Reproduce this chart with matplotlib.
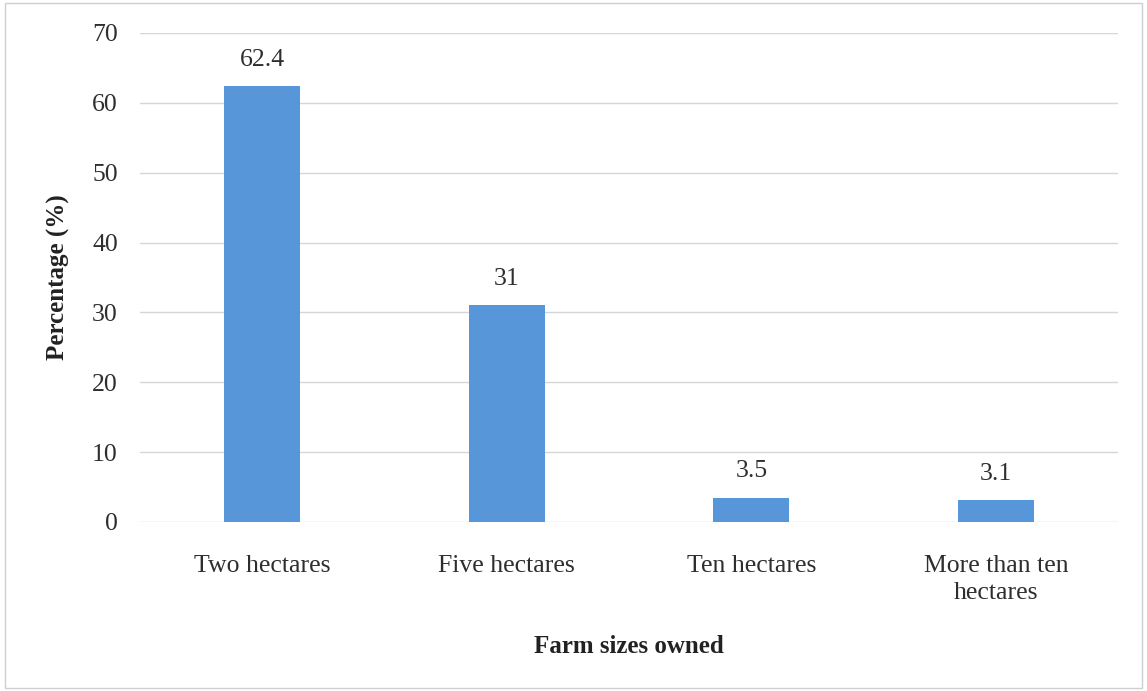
import matplotlib.pyplot as plt
from matplotlib.patches import Rectangle

# farm size categories and share of respondents (%)
categories = ["Two hectares", "Five hectares", "Ten hectares", "More than ten\nhectares"]
values = [62.4, 31, 3.5, 3.1]
y_ticks = [0, 10, 20, 30, 40, 50, 60, 70]

plt.rcParams['font.family'] = ['Liberation Serif', 'DejaVu Serif']

fig = plt.figure(figsize=(11.47, 6.91), dpi=100)
ax = fig.add_axes([0.1221, 0.2446, 0.8527, 0.7077])

x = list(range(len(categories)))
bars = ax.bar(x, values, width=0.31, color='#5796d8', zorder=3)

for b, v in zip(bars, values):
    ax.annotate(str(v), (b.get_x() + b.get_width() / 2, v),
                xytext=(0, 11), textcoords='offset points',
                ha='center', va='bottom', fontsize=18.5, color='#2e2e2e')

ax.set_xlim(-0.5, len(categories) - 0.5)
ax.set_ylim(0, 70)
ax.set_yticks(y_ticks)
ax.set_xticks(x)
ax.set_xticklabels(categories, fontsize=18.5, color='#2e2e2e', linespacing=1.3)
ax.tick_params(axis='y', labelsize=18.5, labelcolor='#2e2e2e', length=0, pad=16)
ax.tick_params(axis='x', length=0, pad=24)
ax.grid(axis='y', color='#d6d6d6', linewidth=1, zorder=0)

for s in ax.spines.values():
    s.set_visible(False)

ax.set_xlabel("Farm sizes owned", fontsize=18, fontweight='bold', color='#222222', labelpad=22)
ax.set_ylabel("Percentage (%)", fontsize=18, fontweight='bold', color='#222222', labelpad=16)

# light frame around the whole chart
fig.patches.append(Rectangle((0.004, 0.004), 0.992, 0.992, transform=fig.transFigure,
                             fill=False, edgecolor='#cfcfcf', linewidth=1))

fig.savefig("out.png", dpi=100)
